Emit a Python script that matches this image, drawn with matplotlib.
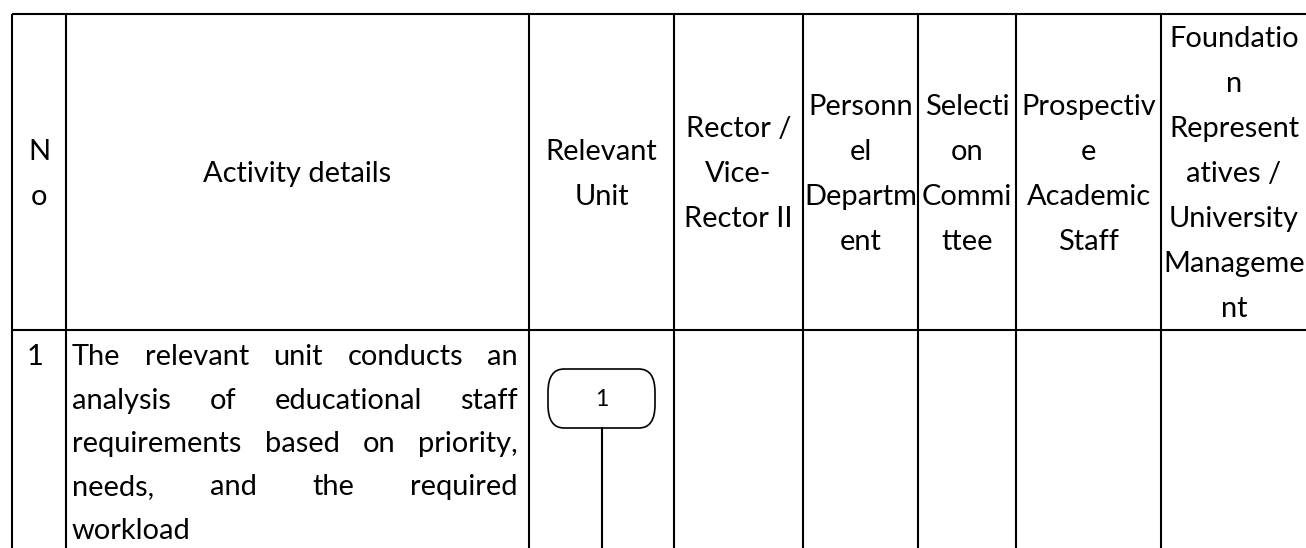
import matplotlib.pyplot as plt
from matplotlib.patches import FancyBboxPatch

# table layout (pixels)
col_edges = [12, 66, 529, 674, 803, 918, 1016, 1161, 1307]
headers = [
    ["N", "o"],
    ["Activity details"],
    ["Relevant", "Unit"],
    ["Rector /", "Vice-", "Rector II"],
    ["Personn", "el", "Departm", "ent"],
    ["Selecti", "on", "Commi", "ttee"],
    ["Prospectiv", "e", "Academic", "Staff"],
    ["Foundatio", "n", "Represent", "atives /", "University", "Manageme", "nt"],
]
row_no = "1"
activity_lines = [
    "The relevant unit conducts an",
    "analysis of educational staff",
    "requirements based on priority,",
    "needs, and the required",
    "workload",
]
step_label = "1"

plt.rcParams['font.family'] = ['Lato', 'DejaVu Sans']
fig = plt.figure(figsize=(13.06, 5.48), dpi=100)
ax = fig.add_axes([0, 0, 1, 1])
ax.set_xlim(0, 1306)
ax.set_ylim(548, 0)
ax.axis('off')

renderer = fig.canvas.get_renderer()

# size the font so the text is about as wide as in the original (Calibri)
probe = ax.text(0, 0, "Foundatio", fontsize=20)
fs = 20 * 130 / probe.get_window_extent(renderer).width
probe.remove()
cap_half = 0.36 * fs * 100 / 72

top, head_bot = 14, 330
ax.hlines([top, head_bot], col_edges[0], 1306, color='black', lw=1.5)
ax.vlines(col_edges[:-1], top, 548, color='black', lw=1.5)

# header cells, lines centred
mid = (top + head_bot) / 2
for i, lines in enumerate(headers):
    cx = (col_edges[i] + col_edges[i + 1]) / 2
    if i == len(headers) - 1:
        cx = 1234
    n = len(lines)
    for k, s in enumerate(lines):
        y = mid + (k - (n - 1) / 2) * 45
        ax.text(cx, y + cap_half, s, ha='center', va='baseline', fontsize=fs)

# row 1
body_y = [355 + k * 43.3 for k in range(len(activity_lines))]
ax.text(27, body_y[0] + cap_half, row_no, ha='left', va='baseline', fontsize=fs)

# justified paragraph, last line left aligned
left, right = 72, 518
for k, line in enumerate(activity_lines):
    y = body_y[k] + cap_half
    words = line.split()
    if k == len(activity_lines) - 1 or len(words) == 1:
        ax.text(left, y, line, va='baseline', fontsize=fs)
        continue
    items = [ax.text(0, y, w, va='baseline', fontsize=fs) for w in words]
    widths = [t.get_window_extent(renderer).width for t in items]
    gap = (right - left - sum(widths)) / (len(words) - 1)
    x = left
    for t, wd in zip(items, widths):
        t.set_x(x)
        x += wd + gap

# start symbol in the Relevant Unit column
cx = (col_edges[2] + col_edges[3]) / 2
box = FancyBboxPatch((cx - 53.5, 369), 107, 59,
                     boxstyle="round,pad=0,rounding_size=16",
                     mutation_aspect=1.45,
                     fc='white', ec='black', lw=1.2)
ax.add_patch(box)
ax.text(cx, 398 + cap_half * 0.8, step_label, ha='center', va='baseline', fontsize=fs * 0.8)
ax.plot([cx, cx], [428, 548], color='black', lw=1.5)

fig.savefig('out.png', dpi=100)
